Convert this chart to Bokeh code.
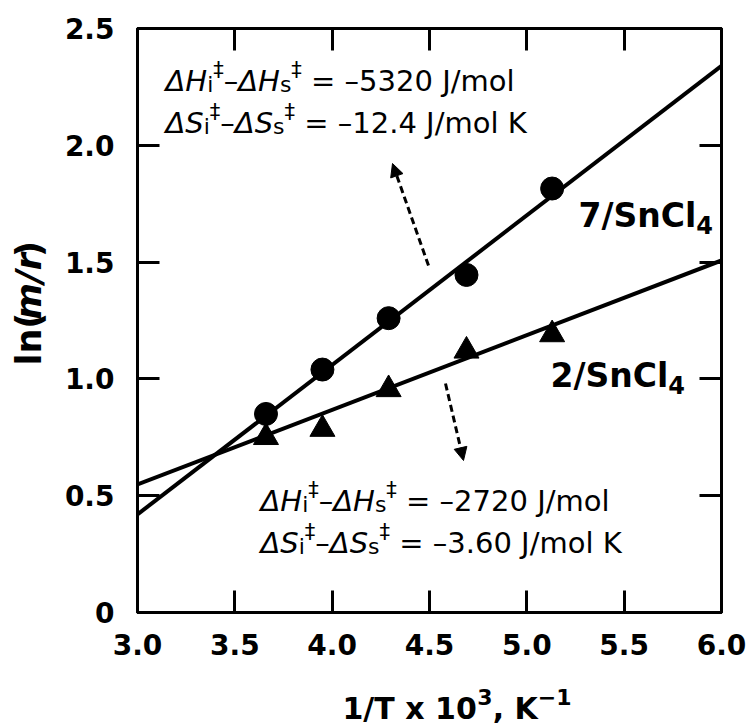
import math
from bokeh.plotting import figure
from bokeh.layouts import row, column
from bokeh.models import Label, Arrow, NormalHead, LinearAxis, FixedTicker
from bokeh.embed import file_html
from bokeh.resources import INLINE

# ---------------- data ----------------
x_7 = [3.66, 3.95, 4.29, 4.69, 5.13]
y_7 = [0.85, 1.04, 1.26, 1.445, 1.815]
x_2 = [3.66, 3.95, 4.29, 4.69, 5.13]
y_2 = [0.75, 0.785, 0.955, 1.12, 1.19]
fit_x = [3.0, 6.0]
fit_7 = [0.42, 2.34]
fit_2 = [0.548, 1.507]
x_ticks = [3.0, 3.5, 4.0, 4.5, 5.0, 5.5, 6.0]
x_tick_labels = ["3.0", "3.5", "4.0", "4.5", "5.0", "5.5", "6.0"]
y_ticks = [0.0, 0.5, 1.0, 1.5, 2.0, 2.5]
y_tick_labels = ["0", "0.5", "1.0", "1.5", "2.0", "2.5"]

# ---------------- geometry (canvas pixels) ----------------
W, H = 746, 725
LW = 60          # width of the strip holding the y title
BH = 56          # height of the strip holding the x title
FL, FR, FT, FB = 137, 721, 28, 612
XMIN, XMAX, YMIN, YMAX = 3.0, 6.0, 0.0, 2.5

def X(px):
    return XMIN + (px - FL) * (XMAX - XMIN) / (FR - FL)

def Y(py):
    return YMIN + (FB - py) * (YMAX - YMIN) / (FB - FT)

FONT = "DejaVu Sans"
REG = {' ': .318, '.': .318, ',': .318, '/': .337, '=': .838, '–': .5, '−': .838,
       'J': .295, 'K': .656, 'm': .974, 'o': .612, 'l': .278, 'H': .752, 'S': .635,
       'i': .278, 's': .521, '‡': .5, 'Δ': .684, 'x': .592}
BOLD = {' ': .348, '.': .380, ',': .380, '/': .365, 'S': .720, 'n': .712, 'C': .734,
        'l': .343, 'T': .682, 'x': .663, 'K': .775, '−': .838, '(': .457, ')': .457,
        'm': 1.042, 'r': .493, '–': .5}

def text_w(s, size, bold):
    tab = BOLD if bold else REG
    w = 0.0
    for ch in s:
        if ch.isdigit():
            w += .696 if bold else .636
        else:
            w += tab.get(ch, .6)
    return w * size

def run_w(t, sz, b, it):
    return text_w(t, sz, b) + (0.14 * sz if (it and b) else 0.0)

def runs_len(runs):
    return sum(run_w(t, sz, b, it) for t, sz, b, it, dy in runs)

def add_runs(fig, fx, fy, x_px, y_px, runs, vertical=False):
    """fx, fy map canvas-like pixels to the figure's data coordinates."""
    adv = 0.0
    for t, sz, b, it, dy in runs:
        lead = len(t) - len(t.lstrip(' '))
        adv += text_w(' ' * lead, sz, b)
        t2 = t.strip(' ')
        style = ("bold " if b else "") + ("italic" if it else "")
        style = style.strip() or "normal"
        if vertical:
            px, py, ang = x_px - dy, y_px - adv, math.pi / 2
        else:
            px, py, ang = x_px + adv, y_px - dy, 0.0
        fig.add_layout(Label(x=fx(px), y=fy(py), text=t2, angle=ang,
                             text_font=FONT, text_font_size=f"{sz}px",
                             text_font_style=style, text_color="black",
                             text_align="left", text_baseline="alphabetic"))
        adv += run_w(t.lstrip(' '), sz, b, it)

# ---------------- main plot ----------------
p = figure(width=W - LW, height=H - BH, x_range=(XMIN, XMAX), y_range=(YMIN, YMAX),
           output_backend="svg", toolbar_location=None, title=None,
           min_border_left=FL - LW, min_border_right=W - FR,
           min_border_top=FT, min_border_bottom=H - BH - FB)
p.background_fill_color = "white"
p.border_fill_color = "white"
p.outline_line_color = "black"
p.outline_line_width = 3
p.xgrid.visible = False
p.ygrid.visible = False

def style_axis(ax, ticks, labels, show):
    ax.ticker = FixedTicker(ticks=ticks, minor_ticks=[])
    ax.major_label_overrides = {t: l for t, l in zip(ticks, labels)}
    ax.axis_line_color = "black"
    ax.axis_line_width = 3
    ax.major_tick_line_color = "black"
    ax.major_tick_line_width = 3
    ax.major_tick_in = 22
    ax.major_tick_out = 0
    ax.minor_tick_line_color = None
    ax.major_label_text_font = FONT
    ax.major_label_text_font_style = "bold"
    if show:
        ax.major_label_text_color = "black"
        ax.major_label_text_font_size = "28px"
    else:
        ax.major_label_text_color = None
        ax.major_label_text_font_size = "8px"
        ax.major_label_standoff = 0

style_axis(p.xaxis[0], x_ticks, x_tick_labels, True)
style_axis(p.yaxis[0], y_ticks, y_tick_labels, True)
p.xaxis[0].major_label_standoff = 21
p.yaxis[0].major_label_standoff = 23

top_ax = LinearAxis()
right_ax = LinearAxis()
style_axis(top_ax, x_ticks, x_tick_labels, False)
style_axis(right_ax, y_ticks, y_tick_labels, False)
p.add_layout(top_ax, "above")
p.add_layout(right_ax, "right")

# fitted lines and data
p.line(fit_x, fit_7, line_color="black", line_width=4)
p.line(fit_x, fit_2, line_color="black", line_width=4)
p.scatter(x_7, y_7, marker="circle", size=23, fill_color="black", line_color="black")
p.scatter(x_2, y_2, marker="triangle", size=25, fill_color="black", line_color="black")

# dashed arrows
for (x0, y0, x1, y1) in [(428, 265, 392, 163), (445, 383, 463, 460)]:
    p.add_layout(Arrow(end=NormalHead(size=13, fill_color="black", line_color="black", line_width=1),
                       x_start=X(x0), y_start=Y(y0), x_end=X(x1), y_end=Y(y1),
                       line_color="black", line_width=3, line_dash="7 4"))

# annotation texts
M, SUB, SUP = 29, 22, 21
def dh_runs(val):
    return [("Δ", M, False, True, 0), ("H", M, False, True, 0), ("i", SUB, False, False, -4),
            ("‡", SUP, False, False, 11), ("–", M, False, False, 0),
            ("Δ", M, False, True, 0), ("H", M, False, True, 0), ("s", SUB, False, False, -4),
            ("‡", SUP, False, False, 11), (" =", M, False, False, 0),
            (" –" + val + " J/mol", M, False, False, 0)]

def ds_runs(val):
    return [("Δ", M, False, True, 0), ("S", M, False, True, 0), ("i", SUB, False, False, -4),
            ("‡", SUP, False, False, 11), ("–", M, False, False, 0),
            ("Δ", M, False, True, 0), ("S", M, False, True, 0), ("s", SUB, False, False, -4),
            ("‡", SUP, False, False, 11), (" =", M, False, False, 0),
            (" –" + val + " J/mol K", M, False, False, 0)]

add_runs(p, X, Y, 165, 80, dh_runs("5320"))
add_runs(p, X, Y, 165, 122, ds_runs("12.4"))
add_runs(p, X, Y, 260, 500, dh_runs("2720"))
add_runs(p, X, Y, 260, 542, ds_runs("3.60"))

# series labels
add_runs(p, X, Y, 578, 215, [("7/SnCl", 33, True, False, 0), ("4", 24, True, False, -9)])
add_runs(p, X, Y, 550, 375, [("2/SnCl", 33, True, False, 0), ("4", 24, True, False, -9)])

# ---------------- title strips ----------------
def blank(w, h):
    f = figure(width=w, height=h, x_range=(0, w), y_range=(0, h),
               output_backend="svg", toolbar_location=None, title=None,
               x_axis_type=None, y_axis_type=None, min_border=0)
    f.outline_line_color = None
    f.xgrid.visible = False
    f.ygrid.visible = False
    f.background_fill_color = "white"
    f.border_fill_color = "white"
    return f

HL = H - BH
ylab_fig = blank(LW, HL)
ylab = [("ln(", 35, True, False, 0), ("m/r", 35, True, True, 0), (")", 35, True, False, 0)]
add_runs(ylab_fig, lambda px: px, lambda py: HL - py,
         28, 316 + runs_len(ylab) / 2, ylab, vertical=True)

xlab_fig = blank(W, BH)
xlab = [("1/T x 10", 30, True, False, 0), ("3", 22, True, False, 12),
        (", K", 30, True, False, 0), ("−1", 22, True, False, 12)]
add_runs(xlab_fig, lambda px: px, lambda py: H - py,
         342, 708, xlab)

layout = column(row(ylab_fig, p, spacing=0), xlab_fig, spacing=0)
open("out.html", "w").write(file_html(layout, INLINE))
